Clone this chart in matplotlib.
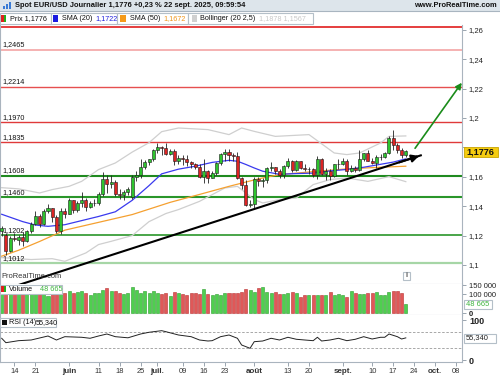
import matplotlib
matplotlib.use("Agg")
import matplotlib.pyplot as plt
from matplotlib.patches import Rectangle

plt.rcParams['font.family'] = ['Liberation Sans', 'DejaVu Sans']

# ---------------- data ----------------
opens = [1.1230, 1.1205, 1.1095, 1.1185, 1.1172, 1.1190, 1.1163, 1.1228, 1.1282, 1.1330,
         1.1280, 1.1365, 1.1385, 1.1325, 1.1232, 1.1368, 1.1350, 1.1440, 1.1372, 1.1420,
         1.1445, 1.1395, 1.1420, 1.1425, 1.1485, 1.1585, 1.1550, 1.1562, 1.1480, 1.1478,
         1.1495, 1.1465, 1.1598, 1.1610, 1.1665, 1.1700, 1.1718, 1.1785, 1.1802, 1.1798,
         1.1755, 1.1775, 1.1710, 1.1725, 1.1720, 1.1700, 1.1690, 1.1665, 1.1600, 1.1640,
         1.1595, 1.1625, 1.1695, 1.1755, 1.1770, 1.1750, 1.1740, 1.1590, 1.1545, 1.1405,
         1.1415, 1.1585, 1.1570, 1.1575, 1.1660, 1.1665, 1.1640, 1.1615, 1.1675, 1.1705,
         1.1645, 1.1705, 1.1660, 1.1650, 1.1652, 1.1610, 1.1720, 1.1620, 1.1640, 1.1605,
         1.1685, 1.1685, 1.1710, 1.1640, 1.1660, 1.1645, 1.1720, 1.1760, 1.1710, 1.1695,
         1.1735, 1.1735, 1.1760, 1.1865, 1.1815, 1.1785, 1.1745]
highs = [1.1265, 1.1215, 1.1195, 1.1215, 1.1205, 1.1225, 1.1240, 1.1290, 1.1365, 1.1345,
         1.1378, 1.1418, 1.1390, 1.1340, 1.1385, 1.1385, 1.1455, 1.1445, 1.1435, 1.1495,
         1.1455, 1.1432, 1.1450, 1.1495, 1.1630, 1.1615, 1.1615, 1.1580, 1.1520, 1.1510,
         1.1530, 1.1610, 1.1641, 1.1720, 1.1715, 1.1720, 1.1790, 1.1830, 1.1810, 1.1830,
         1.1790, 1.1790, 1.1750, 1.1745, 1.1750, 1.1710, 1.1695, 1.1685, 1.1720, 1.1645,
         1.1640, 1.1700, 1.1760, 1.1790, 1.1790, 1.1765, 1.1770, 1.1600, 1.1580, 1.1445,
         1.1600, 1.1600, 1.1590, 1.1670, 1.1700, 1.1670, 1.1650, 1.1680, 1.1730, 1.1715,
         1.1715, 1.1710, 1.1690, 1.1670, 1.1660, 1.1742, 1.1725, 1.1660, 1.1650, 1.1690,
         1.1720, 1.1725, 1.1720, 1.1680, 1.1675, 1.1780, 1.1765, 1.1780, 1.1725, 1.1745,
         1.1755, 1.1770, 1.1880, 1.1918, 1.1830, 1.1795, 1.1785]
lows = [1.1200, 1.1070, 1.1085, 1.1165, 1.1135, 1.1130, 1.1155, 1.1215, 1.1275, 1.1260,
        1.1270, 1.1355, 1.1290, 1.1215, 1.1212, 1.1320, 1.1345, 1.1355, 1.1360, 1.1395,
        1.1370, 1.1388, 1.1400, 1.1410, 1.1470, 1.1490, 1.1525, 1.1470, 1.1450, 1.1445,
        1.1475, 1.1452, 1.1570, 1.1590, 1.1650, 1.1680, 1.1710, 1.1760, 1.1745, 1.1745,
        1.1750, 1.1680, 1.1690, 1.1680, 1.1675, 1.1660, 1.1650, 1.1590, 1.1555, 1.1555,
        1.1590, 1.1610, 1.1680, 1.1710, 1.1710, 1.1710, 1.1585, 1.1520, 1.1400, 1.1392,
        1.1390, 1.1540, 1.1530, 1.1560, 1.1640, 1.1620, 1.1590, 1.1590, 1.1660, 1.1630,
        1.1640, 1.1650, 1.1640, 1.1620, 1.1600, 1.1585, 1.1610, 1.1580, 1.1575, 1.1600,
        1.1650, 1.1680, 1.1610, 1.1630, 1.1630, 1.1640, 1.1710, 1.1705, 1.1690, 1.1660,
        1.1715, 1.1725, 1.1755, 1.1780, 1.1760, 1.1730, 1.1735]
closes = [1.1250, 1.1095, 1.1185, 1.1178, 1.1190, 1.1163, 1.1228, 1.1282, 1.1330, 1.1280,
          1.1365, 1.1385, 1.1325, 1.1232, 1.1368, 1.1350, 1.1440, 1.1372, 1.1420, 1.1445,
          1.1395, 1.1420, 1.1425, 1.1485, 1.1585, 1.1550, 1.1562, 1.1480, 1.1478, 1.1495,
          1.1515, 1.1598, 1.1610, 1.1665, 1.1700, 1.1718, 1.1785, 1.1802, 1.1798, 1.1755,
          1.1775, 1.1710, 1.1725, 1.1720, 1.1700, 1.1690, 1.1665, 1.1600, 1.1640, 1.1595,
          1.1625, 1.1695, 1.1755, 1.1770, 1.1750, 1.1740, 1.1590, 1.1545, 1.1405, 1.1415,
          1.1585, 1.1570, 1.1575, 1.1660, 1.1665, 1.1640, 1.1615, 1.1675, 1.1705, 1.1645,
          1.1705, 1.1660, 1.1650, 1.1652, 1.1610, 1.1720, 1.1620, 1.1640, 1.1605, 1.1685,
          1.1685, 1.1710, 1.1640, 1.1660, 1.1645, 1.1720, 1.1760, 1.1710, 1.1695, 1.1735,
          1.1735, 1.1760, 1.1865, 1.1815, 1.1785, 1.1745, 1.1776]
volumes = [112, 130, 120, 108, 115, 106, 102, 110, 118, 106, 110, 91, 109, 115, 108,
           106, 120, 106, 115, 118, 106, 97, 106, 109, 124, 133, 120, 120, 106, 102,
           106, 141, 124, 106, 120, 109, 120, 106, 102, 106, 91, 115, 109, 102, 97,
           106, 106, 102, 127, 102, 97, 102, 97, 106, 109, 106, 106, 115, 127, 124,
           115, 133, 138, 115, 109, 115, 102, 102, 109, 115, 106, 88, 97, 97, 97,
           97, 97, 97, 115, 97, 102, 97, 88, 120, 106, 102, 102, 109, 106, 115,
           97, 97, 115, 118, 120, 106, 48.665]  # thousands

sma20_idx = [0, 5, 8, 11, 15, 19, 23, 27, 31, 35, 38, 42, 46, 50, 54, 56, 58, 60, 62, 66,
             70, 74, 78, 82, 86, 90, 93, 96]
sma20_val = [1.1345, 1.1295, 1.1272, 1.1263, 1.1274, 1.1302, 1.1330, 1.1362, 1.1440, 1.1540,
             1.1620, 1.1652, 1.1672, 1.1698, 1.1712, 1.1706, 1.1684, 1.1660, 1.1638, 1.1617,
             1.1622, 1.1625, 1.1640, 1.1650, 1.1665, 1.1685, 1.1700, 1.1722]
sma50_idx = [0, 4, 9, 15, 23, 31, 40, 47, 54, 61, 66, 74, 82, 90, 96]
sma50_val = [1.1060, 1.1100, 1.1160, 1.1237, 1.1290, 1.1343, 1.1426, 1.1480, 1.1535, 1.1586,
             1.1615, 1.1635, 1.1654, 1.1665, 1.1672]
bb_up_idx = [0, 4, 9, 12, 16, 19, 23, 27, 31, 35, 38, 42, 49, 54, 57, 60, 65, 73, 79, 82,
             85, 90, 92, 96]
bb_up_val = [1.1526, 1.1518, 1.1490, 1.1513, 1.1535, 1.1569, 1.1649, 1.1694, 1.1768, 1.1832,
             1.1907, 1.1932, 1.1921, 1.1887, 1.1932, 1.1909, 1.1875, 1.1887, 1.1762, 1.1751,
             1.1762, 1.1830, 1.1875, 1.1878]
bb_lo_idx = [0, 7, 12, 15, 20, 23, 26, 31, 35, 39, 42, 47, 53, 56, 60, 62, 66, 70, 74, 78,
             82, 87, 92, 96]
bb_lo_val = [1.1050, 1.1037, 1.1043, 1.1025, 1.1082, 1.1139, 1.1161, 1.1200, 1.1295, 1.1350,
             1.1377, 1.1433, 1.1524, 1.1535, 1.1445, 1.1422, 1.1445, 1.1456, 1.1547, 1.1581,
             1.1592, 1.1569, 1.1601, 1.1567]
rsi_idx = [0, 1, 4, 7, 11, 13, 15, 19, 21, 23, 25, 27, 30, 33, 35, 38, 39, 42, 45, 47,
           49, 50, 52, 54, 56, 57, 59, 60, 62, 64, 66, 68, 70, 72, 74, 75, 76, 78, 80, 82,
           84, 86, 88, 90, 91, 92, 94, 95, 96]
rsi_val = [54.3, 43.3, 48.3, 50, 60, 50, 58.3, 56.8, 54.3, 60, 65, 58.3, 55.5, 65, 69.3, 73.3,
           70.8, 62.5, 58.3, 50, 47.5, 48.3, 58.3, 62.5, 54.3, 37.5, 29.3, 45.8, 47.5, 54.3,
           50, 56.8, 51.8, 50, 48.3, 56.8, 47.5, 50, 54.3, 48.3, 51.8, 58.3, 52.5, 56.8, 56.8,
           65, 58.3, 52.5, 55.3]

level_vals = [1.2616, 1.2465, 1.2214, 1.1970, 1.1835, 1.1608, 1.1460, 1.1202, 1.1012]
level_labels = ["", "1,2465", "1,2214", "1,1970", "1,1835", "1,1608", "1,1460", "1,1202", "1,1012"]
level_colors = ['#e01e1e', '#f4a4a4', '#e65050', '#e03a3a', '#e03a3a', '#1f8a1f', '#2a962a',
                '#2a962a', '#a6d6a6']
level_widths = [1.2, 1.2, 1.0, 1.0, 1.0, 1.5, 1.5, 1.2, 1.6]

trend_x = [0, 99.8]
trend_y = [1.0827, 1.1748]
target_x = [98.2, 109.3]
target_y = [1.1794, 1.2240]

price_ticks = [1.10, 1.12, 1.14, 1.16, 1.18, 1.20, 1.22, 1.24, 1.26]
xtick_pos = [3, 8, 16, 23, 28, 33, 37, 43, 48, 53, 60, 68, 73, 81, 88, 93, 98, 103, 108]
xtick_lab = ["14", "21", "juin", "11", "18", "25", "juil.", "09", "16", "23", "août", "13",
             "20", "sept.", "10", "17", "24", "oct.", "08"]

# ---------------- figure ----------------
W, H = 500, 375
fig = plt.figure(figsize=(5, 3.75), dpi=100)
fig.patch.set_facecolor('white')


def rect(x0, y0, x1, y1):
    return [x0 / W, 1 - y1 / H, (x1 - x0) / W, (y1 - y0) / H]


def fx(x):
    return x / W


def fy(y):
    return 1 - y / H


XMIN, XMAX = -0.4, 109.35
n = len(closes)
idx = list(range(n))
GREEN = '#2ec42e'
RED = '#dc2424'
up = [c >= o for o, c in zip(opens, closes)]

ax = fig.add_axes(rect(0, 25, 462, 284))
axv = fig.add_axes(rect(0, 284, 462, 315))
axr = fig.add_axes(rect(0, 315, 462, 362))
for a in (ax, axv, axr):
    a.set_xlim(XMIN, XMAX)
    a.set_facecolor('white')
    for s in ('top', 'bottom', 'left', 'right'):
        a.spines[s].set_color('#aab4be')
        a.spines[s].set_linewidth(0.8)
    a.spines['top'].set_visible(False)
    a.yaxis.tick_right()
    a.tick_params(axis='y', length=3, width=0.6, color='#8a96a2', pad=2,
                  labelcolor='#222222', labelsize=5.5)

# ---- price panel ----
ax.set_ylim(1.08707, 1.26327)
for lv, lab, col, lw in zip(level_vals, level_labels, level_colors, level_widths):
    ax.axhline(lv, color=col, lw=lw, zorder=1)
    if lab:
        ax.annotate(lab, xy=(0, lv), xycoords=('axes fraction', 'data'), xytext=(2, 1.5),
                    textcoords='offset pixels', fontsize=5.2, color='#111111',
                    ha='left', va='bottom')

ax.plot(bb_up_idx, bb_up_val, color='#cfcfcf', lw=0.9, zorder=2)
ax.plot(bb_lo_idx, bb_lo_val, color='#cfcfcf', lw=0.9, zorder=2)
ax.plot(sma50_idx, sma50_val, color='#f5a030', lw=0.9, zorder=2)
ax.plot(sma20_idx, sma20_val, color='#3a3aee', lw=0.9, zorder=2)

ax.vlines(idx, lows, highs, color='#222222', lw=0.6, zorder=3)
body_bottom = [min(o, c) for o, c in zip(opens, closes)]
body_h = [max(abs(c - o), 0.00025) for o, c in zip(opens, closes)]
ax.bar(idx, body_h, bottom=body_bottom, width=0.72,
       color=[GREEN if u else RED for u in up], edgecolor='#1a1a1a', linewidth=0.4, zorder=4)

ax.plot(trend_x, trend_y, color='black', lw=1.5, zorder=5, solid_capstyle='butt')
ax.annotate('', xy=(trend_x[1], trend_y[1]),
            xytext=(trend_x[1] - 6, trend_y[1] - (trend_y[1] - trend_y[0]) * 6 / (trend_x[1] - trend_x[0])),
            arrowprops=dict(arrowstyle='-|>', color='black', lw=1.5, mutation_scale=11),
            zorder=6)
ax.annotate('', xy=(target_x[1], target_y[1]), xytext=(target_x[0], target_y[0]),
            arrowprops=dict(arrowstyle='-|>', color='#1a8c1a', lw=1.2, mutation_scale=9,
                            shrinkA=0, shrinkB=0),
            annotation_clip=False, zorder=6)

ax.set_yticks(price_ticks)
# the 1,18 label sits behind the current-price box in the reference
ax.set_yticklabels(['' if abs(v - 1.18) < 1e-9 else ('%g' % v).replace('.', ',')
                    for v in price_ticks])
ax.tick_params(axis='x', bottom=False, labelbottom=False)
ax.text(0.004, (284 - 277) / 259, 'ProRealTime.com', transform=ax.transAxes, fontsize=5.4,
        color='#333333', ha='left', va='center', zorder=7)

# ---- volume panel ----
axv.set_ylim(-10.75, 155.9)
axv.bar(idx, volumes, width=0.72, color=['#4fcf4f' if u else '#e05858' for u in up],
        edgecolor=['#2d9d2d' if u else '#b83030' for u in up], linewidth=0.4)
axv.set_yticks([0, 100, 150])
axv.set_yticklabels(['0', '100 000', '150 000'])
axv.get_yticklabels()[0].set_fontweight('bold')
axv.tick_params(axis='x', bottom=False, labelbottom=False)

# ---- RSI panel ----
axr.set_ylim(-5, 112.5)
axr.axhline(70, color='#9a9a9a', lw=0.6, dashes=(3, 2))
axr.axhline(30, color='#9a9a9a', lw=0.6, dashes=(3, 2))
axr.plot(rsi_idx, rsi_val, color='#222222', lw=0.7)
axr.set_yticks([0, 100])
axr.set_yticklabels(['0', '100'], fontweight='bold', fontsize=6.5)
axr.set_xticks(xtick_pos)
axr.set_xticklabels(xtick_lab)
axr.tick_params(axis='x', length=3, width=0.6, color='#8a96a2', pad=1.5,
                labelsize=5.4, labelcolor='#333333')
for t in axr.get_xticklabels():
    if not t.get_text()[0].isdigit():
        t.set_fontweight('bold')
        t.set_fontsize(5.8)

# ---------------- header / legends ----------------
fig.add_artist(Rectangle((0, fy(11)), 1, 11 / H, transform=fig.transFigure,
                         facecolor='#dde5eb', edgecolor='none'))
fig.add_artist(plt.Line2D([0, 1], [fy(11), fy(11)], transform=fig.transFigure,
                          color='#a9b5c0', lw=0.8))
for k, (hh, cc) in enumerate([(3, '#3a7bd5'), (5, '#3a7bd5'), (7, '#3a7bd5')]):
    fig.add_artist(Rectangle((fx(3 + k * 3), fy(9)), 2 / W, hh / H, transform=fig.transFigure,
                             facecolor=cc, edgecolor='none'))
fig.text(fx(15), fy(5.8), 'Spot EUR/USD Journalier 1,1776 +0,23 % 22 sept. 2025, 09:59:54',
         fontsize=5.4, fontweight='bold', color='#111111', ha='left', va='center')
fig.text(fx(497), fy(5.8), 'www.ProRealTime.com', fontsize=5.4, fontweight='bold',
         color='#111111', ha='right', va='center')


def box(x0, y0, x1, y1):
    fig.add_artist(Rectangle((fx(x0), fy(y1)), (x1 - x0) / W, (y1 - y0) / H,
                             transform=fig.transFigure, facecolor='white',
                             edgecolor='#b4bfc8', lw=0.8, zorder=8))


def sq(x0, y0, x1, y1, col):
    fig.add_artist(Rectangle((fx(x0), fy(y1)), (x1 - x0) / W, (y1 - y0) / H,
                             transform=fig.transFigure, facecolor=col,
                             edgecolor='none', zorder=9))


def txt(x, y, s, col='#111111', size=5.2, weight='normal', ha='left'):
    fig.text(fx(x), fy(y), s, fontsize=size, color=col, fontweight=weight,
             ha=ha, va='center', zorder=10)


LY = 18.3
box(0, 12.5, 50.7, 24)
sq(1, 15, 3.5, 22, '#e02020')
sq(3.5, 15, 6, 22, '#20b020')
txt(10, LY, 'Prix 1,1776')
box(50.7, 12.5, 117.3, 24)
sq(52.7, 15, 58.3, 21.5, '#1a1ae0')
txt(61.7, LY, 'SMA (20)')
txt(95, LY, '1,1722', col='#2020dd')
box(117.3, 12.5, 188.3, 24)
sq(120, 15, 125.7, 21.5, '#f59a1a')
txt(130, LY, 'SMA (50)')
txt(163, LY, '1,1672', col='#f0951a')
box(188.3, 12.5, 313, 24)
sq(191.7, 15, 197.3, 21.5, '#d0d0d0')
txt(200, LY, 'Bollinger (20 2,5)')
txt(259, LY, '1,1878 1,1567', col='#c8c8c8')

box(0, 284.5, 62, 293.5)
sq(1, 286, 3.5, 292, '#e02020')
sq(3.5, 286, 6, 292, '#20b020')
txt(9, 289.2, 'Volume')
txt(40, 289.2, '48 665', col='#3cb43c')

box(0, 317.5, 56, 327)
sq(1.5, 319.5, 6.5, 325, '#111111')
txt(9, 322.3, 'RSI (14)')
txt(36, 322.3, '55,340')

# info icon
box(402.5, 272, 409.5, 279.5)
txt(406, 275.8, 'i', col='#555555', size=5.2, weight='bold', ha='center')

# right side value boxes
fig.add_artist(Rectangle((fx(464), fy(156.5)), 34 / W, 10 / H, transform=fig.transFigure,
                         facecolor='#f5cc10', edgecolor='#c9a400', lw=0.6, zorder=8))
txt(466, 151.5, '1,1776', size=6.6, weight='bold')
box(464, 299.5, 492, 308.5)
txt(466, 304, '48 665', col='#3cb43c', size=5.4)
box(464, 333.5, 496, 342.5)
txt(466, 338, '55,340', col='#222222', size=5.4)

fig.savefig('out.png', dpi=100, facecolor='white')
